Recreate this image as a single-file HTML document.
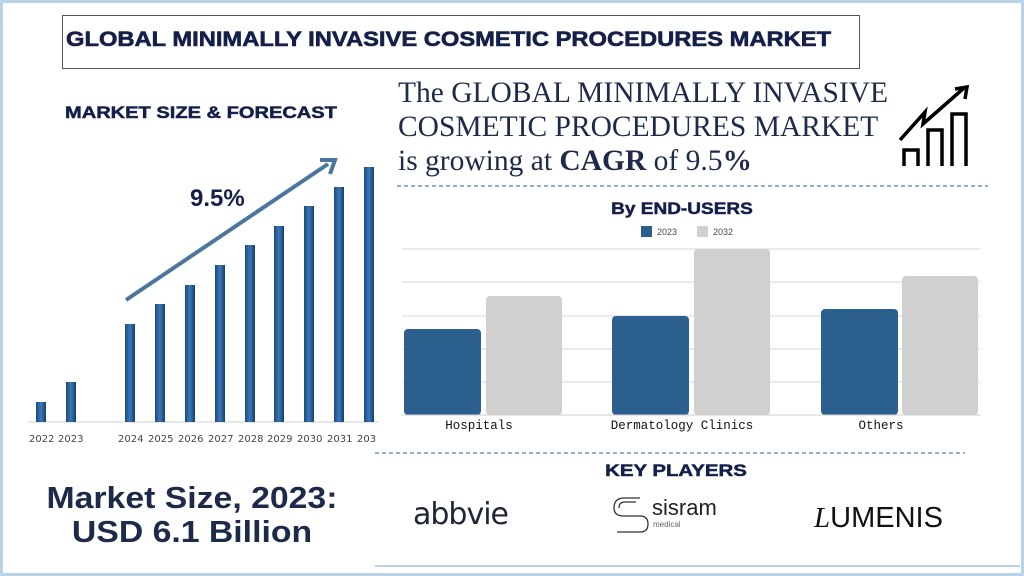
<!DOCTYPE html>
<html><head><meta charset="utf-8"><style>
body{margin:0;width:1024px;height:576px;overflow:hidden;background:#fff;font-family:"Liberation Sans",sans-serif;}
.frame{position:absolute;left:0;top:0;width:1018px;height:570px;border:3px solid #b9d3e6;}
.t{position:absolute;white-space:nowrap;}
</style></head><body>
<div class="frame"></div>
<div style="position:absolute;left:62px;top:15px;width:796px;height:52px;border:1px solid #555;"></div>
<div class="t" style="left:66px;top:28px;font-size:21px;font-weight:bold;color:#15204a;transform:scaleX(1.13);transform-origin:left;-webkit-text-stroke:0.6px #15204a;">GLOBAL MINIMALLY INVASIVE COSMETIC PROCEDURES MARKET</div>
<div class="t" style="left:65px;top:103px;font-size:17px;font-weight:bold;color:#15204a;transform:scaleX(1.18);transform-origin:left;-webkit-text-stroke:0.5px #15204a;">MARKET SIZE &amp; FORECAST</div>
<div class="t" style="left:398px;top:76px;font-family:'Liberation Serif',serif;font-size:29.5px;color:#1e2a4a;line-height:34px;">The GLOBAL MINIMALLY INVASIVE<br>COSMETIC PROCEDURES MARKET<br>is growing at <b>CAGR</b> of 9.5<b>%</b></div>
<svg width="1024" height="576" style="position:absolute;left:0;top:0">
<g stroke="#000" stroke-width="3.5" fill="none">
<path d="M904 166 V150 H918 V166"/><path d="M928 166 V130 H942 V166"/><path d="M952 166 V114 H966 V166"/>
<path d="M900 140 L925 112 L923 124 L964 88"/><path d="M955 89 L967 87 L965 99"/>
</g>
<line x1="397" y1="186" x2="988" y2="186" stroke="#6b98b8" stroke-width="1.5" stroke-dasharray="4,3"/>
<line x1="375" y1="453" x2="965" y2="453" stroke="#6b98b8" stroke-width="1.5" stroke-dasharray="4,3"/>
<defs><linearGradient id="bg" x1="0" x2="1"><stop offset="0" stop-color="#1d4a7e"/><stop offset="0.5" stop-color="#3a78b8"/><stop offset="1" stop-color="#163e6c"/></linearGradient></defs>
<line x1="28" y1="422" x2="378" y2="422" stroke="#ccc"/>
<g fill="url(#bg)">
<rect x="36" y="402" width="10" height="20"/><rect x="66" y="382" width="10" height="40"/>
<rect x="125" y="324" width="10" height="98"/><rect x="155" y="304" width="10" height="118"/>
<rect x="185" y="285" width="10" height="137"/><rect x="215" y="265" width="10" height="157"/>
<rect x="245" y="245" width="10" height="177"/><rect x="274" y="226" width="10" height="196"/>
<rect x="304" y="206" width="10" height="216"/><rect x="334" y="187" width="10" height="235"/>
<rect x="364" y="167" width="10" height="255"/>
</g>
<g font-family="DejaVu Sans" font-size="10" fill="#444">
<text x="29" y="442">2022</text><text x="58" y="442">2023</text>
<text x="118" y="442">2024</text><text x="148" y="442">2025</text><text x="178" y="442">2026</text><text x="208" y="442">2027</text><text x="238" y="442">2028</text><text x="267" y="442">2029</text><text x="297" y="442">2030</text><text x="327" y="442">2031</text><text x="357" y="442">203</text>
</g>
<line x1="126" y1="300" x2="328" y2="164" stroke="#4a76a0" stroke-width="4"/>
<path d="M320 160 L335 160 L330 174" stroke="#4a76a0" stroke-width="4" fill="none"/>
<text x="190" y="206" font-size="24" font-weight="bold" fill="#15204a">9.5%</text>
<text x="682" y="214" text-anchor="middle" font-size="17" font-weight="bold" fill="#15204a" stroke="#15204a" stroke-width="0.5" transform="translate(682 0) scale(1.12 1) translate(-682 0)">By END-USERS</text>
<rect x="641" y="226" width="11" height="11" fill="#2b5f8e"/><text x="657" y="235" font-size="9" fill="#444">2023</text>
<rect x="697" y="226" width="11" height="11" fill="#d0d0d0"/><text x="713" y="235" font-size="9" fill="#444">2032</text>
<g stroke="#e3e3e3" stroke-width="1.5"><line x1="402" y1="249" x2="980" y2="249"/><line x1="402" y1="282" x2="980" y2="282"/><line x1="402" y1="316" x2="980" y2="316"/><line x1="402" y1="349" x2="980" y2="349"/><line x1="402" y1="382" x2="980" y2="382"/></g>
<g fill="#2b5f8e"><rect x="404" y="329" width="77" height="86" rx="4"/><rect x="612" y="316" width="77" height="99" rx="4"/><rect x="821" y="309" width="77" height="106" rx="4"/></g>
<g fill="#d0d0d0"><rect x="486" y="296" width="76" height="119" rx="4"/><rect x="694" y="249" width="76" height="166" rx="4"/><rect x="902" y="276" width="76" height="139" rx="4"/></g>
<line x1="402" y1="415" x2="980" y2="415" stroke="#ccc"/>
<g font-family="Liberation Mono" font-size="12.5" fill="#111" text-anchor="middle">
<text x="479" y="429">Hospitals</text><text x="682" y="429">Dermatology Clinics</text><text x="881" y="429">Others</text></g>
<text x="676" y="476" text-anchor="middle" font-size="17" font-weight="bold" fill="#15204a" stroke="#15204a" stroke-width="0.5" transform="translate(676 0) scale(1.2 1) translate(-676 0)">KEY PLAYERS</text>
<text x="413" y="524" font-family="DejaVu Sans" font-size="30" fill="#1e2536" letter-spacing="-1">abbvie</text>
<g stroke="#333" stroke-width="1.3" fill="none"><path d="M640 498 H624 Q614 498 614 508 Q614 516 624 516 H640 Q648 516 648 524 Q648 532 640 532 H617"/><path d="M636 502 H625 Q619 502 619 508"/></g>
<text x="652" y="515" font-size="22" fill="#222">sisram</text>
<text x="653" y="527" font-size="8" fill="#666">medical</text>
<text x="814" y="527" font-size="29" fill="#111"><tspan font-family="Liberation Serif" font-style="italic">L</tspan>UMENIS</text>
<text x="192" y="508" text-anchor="middle" font-size="31" font-weight="bold" fill="#1e2a4a" transform="translate(192 0) scale(1.09 1) translate(-192 0)">Market Size, 2023:</text>
<text x="192" y="542" text-anchor="middle" font-size="31" font-weight="bold" fill="#1e2a4a" transform="translate(192 0) scale(1.09 1) translate(-192 0)">USD 6.1 Billion</text>
<line x1="375" y1="566" x2="1020" y2="566" stroke="#b9d3e6" stroke-width="2"/>
</svg>
</body></html>
